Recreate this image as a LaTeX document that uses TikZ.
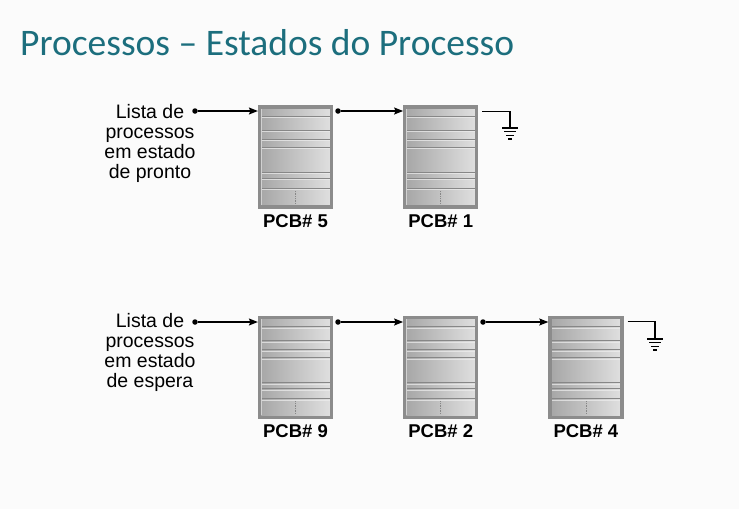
\documentclass[tikz,border=0pt]{standalone}
\usepackage{fontspec}
\setmainfont{Liberation Sans}
\newfontfamily\titlefont{Carlito}
\usetikzlibrary{arrows.meta,positioning}
\definecolor{titleteal}{HTML}{1C6E7D}
\definecolor{fondo}{HTML}{FBFBFB}
\definecolor{pcbborder}{HTML}{8C8C8C}
\definecolor{pcbdark}{HTML}{A6A6A6}
\definecolor{pcblight}{HTML}{E0E0E0}
\definecolor{pcbline}{HTML}{878787}
\definecolor{pcbshine}{HTML}{EEEEEE}

\tikzset{
  pcb/.style={draw=pcbborder, line width=3.2pt, minimum width=72pt, minimum height=100pt,
    left color=pcbdark, right color=pcblight,
    path picture={
      \foreach \d in {9.5,23.5,32.5,40.5,65.5,71.5,81.5}{
        \draw[pcbline, line width=1.3pt] ([xshift=2pt,yshift=-\d pt]path picture bounding box.north west) -- ++(68pt,0pt);
        \draw[pcbshine, line width=0.8pt, opacity=0.7] ([xshift=2pt,yshift=-\d pt-1.3pt]path picture bounding box.north west) -- ++(68pt,0pt);
      }
      \draw[pcbshine, line width=0.8pt, opacity=0.6] ([xshift=1.8pt,yshift=-2pt]path picture bounding box.north west) -- ++(0pt,-96pt);
      \draw[pcbline, densely dotted, line width=0.7pt] ([yshift=-84pt]path picture bounding box.north) -- ++(0pt,-13pt);
    }},
  pcblabel/.style={font=\bfseries\fontsize{18.5}{18.5}\selectfont, inner sep=0pt},
  lista/.style={align=center, inner sep=0pt, font=\fontsize{19.5}{20}\selectfont},
  ponto/.style={circle, fill=black, inner sep=0pt, minimum size=5.5pt},
  fio/.style={line width=1.2pt},
  terra/.pic={
    \draw[line width=1.5pt] (-8pt,0pt) -- (8pt,0pt) (-6pt,-3.7pt) -- (6pt,-3.7pt)
      (-4pt,-7.4pt) -- (4pt,-7.4pt) (-2pt,-11pt) -- (2pt,-11pt);
  }
}

\begin{document}
\begin{tikzpicture}[x=1pt,y=-1pt,>={Stealth[length=9pt,width=7pt,inset=1.5pt]}]
\fill[fondo] (0,0) rectangle (739,509);
\useasboundingbox (0,0) rectangle (739,509);

\node[anchor=base west, inner sep=0pt, text=titleteal, font=\titlefont\fontsize{37.5}{37.5}\selectfont] (titulo) at (20,55) {Processos – Estados do Processo};

% fila de pronto
\node[pcb] (pcb5) at (295.5,157) {};
\node[pcb, right=70pt of pcb5] (pcb1) {};
\node[pcblabel, below=6pt of pcb5] (lbl5) {PCB\# 5};
\node[pcblabel, below=6pt of pcb1] (lbl1) {PCB\# 1};

\node[lista, anchor=north] (pronto) at (150,104) {Lista de\\processos\\em estado\\de pronto};
\node[ponto] (dp) at (195,111) {};
\node[ponto] (d5) at (338,111) {};
\draw[fio,->] (dp) -- (dp -| pcb5.west);
\draw[fio,->] (d5) -- (d5 -| pcb1.west);
\coordinate (g1) at (510,128);
\draw[fio] ([xshift=4pt,yshift=-6pt]pcb1.north east) -| (g1);
\pic at (g1) {terra};

% fila de espera
\node[pcb, below=107pt of pcb5] (pcb9) {};
\node[pcb, right=70pt of pcb9] (pcb2) {};
\node[pcb, right=70pt of pcb2] (pcb4) {};
\node[pcblabel, below=6pt of pcb9] (lbl9) {PCB\# 9};
\node[pcblabel, below=6pt of pcb2] (lbl2) {PCB\# 2};
\node[pcblabel, below=6pt of pcb4] (lbl4) {PCB\# 4};

\node[lista, anchor=north] (espera) at (150,313) {Lista de\\processos\\em estado\\de espera};
\node[ponto] (de) at (195,322) {};
\node[ponto] (d9) at (338,322) {};
\node[ponto] (d2) at (483,322) {};
\draw[fio,->] (de) -- (de -| pcb9.west);
\draw[fio,->] (d9) -- (d9 -| pcb2.west);
\draw[fio,->] (d2) -- (d2 -| pcb4.west);
\coordinate (g4) at (655,339);
\draw[fio] ([xshift=4pt,yshift=-6pt]pcb4.north east) -| (g4);
\pic at (g4) {terra};
\end{tikzpicture}
\end{document}
